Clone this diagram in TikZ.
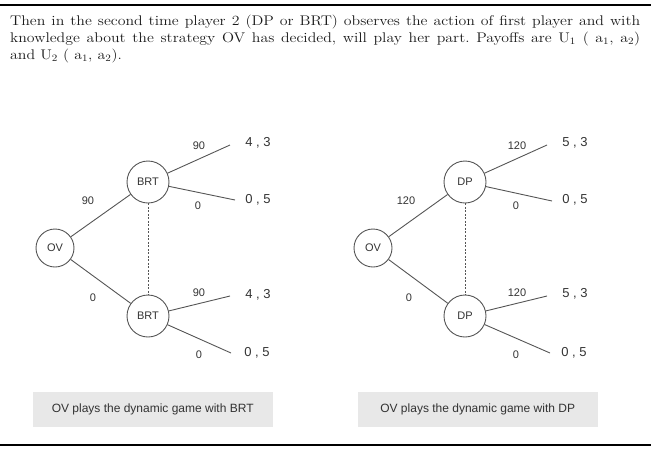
\documentclass[tikz,border=0pt]{standalone}
\usepackage{fontspec}
\newfontfamily\sanf{Liberation Sans}
\definecolor{ln}{HTML}{555555}
\definecolor{tx}{HTML}{333333}
\definecolor{capbg}{HTML}{E8E8E8}
\definecolor{bodytx}{HTML}{1A1A1A}
\tikzset{
  player/.style={circle, draw=ln, line width=0.9pt, inner sep=0pt, font=\sanf\fontsize{11}{11}\selectfont, text=tx},
  branch/.style={draw=ln, line width=0.9pt},
  infoset/.style={draw=ln, line width=0.8pt, dash pattern=on 2pt off 1.5pt},
  elabel/.style={font=\sanf\fontsize{11}{11}\selectfont, text=tx, inner sep=0pt},
  payoff/.style={font=\sanf\fontsize{13}{13}\selectfont, text=tx, inner sep=0pt},
  capbox/.style={fill=capbg, minimum width=240pt, minimum height=35pt, inner sep=0pt, font=\sanf\fontsize{12}{12}\selectfont, text=tx},
  bodyline/.style={anchor=base west, inner sep=0pt, font=\fontsize{14}{17}\selectfont\frenchspacing, text=bodytx},
  rule/.style={line width=2pt, draw=black}
}
\begin{document}
\begin{tikzpicture}[x=1pt, y=-1pt]
\useasboundingbox (0,0) rectangle (651,451);
% rules
\draw[rule] (0,5) -- (651,5);
\draw[rule] (0,445) -- (651,445);
% body text
\node[bodyline] (t1) at (10,25.5) {\scalebox{1.13}[1]{\makebox[557.5pt][s]{Then in the second time player 2 (DP or BRT) observes the action of first player and with}}};
\node[bodyline] (t2) at (10,42.5) {\scalebox{1.13}[1]{\makebox[557.5pt][s]{knowledge about the strategy OV has decided, will play her part. Payoffs are U\textsubscript{1} ( a\textsubscript{1}, a\textsubscript{2})}}};
\node[bodyline] (t3) at (10,59.5) {\scalebox{1.13}[1]{and U\textsubscript{2} ( a\textsubscript{1}, a\textsubscript{2}).}};
% left tree
\node[player, minimum size=38pt] (ov1) at (55,248) {OV};
\node[player, minimum size=42pt] (b1) at (148,182) {BRT};
\node[player, minimum size=42pt] (b2) at (148,316) {BRT};
\coordinate (e1) at (230,145);
\coordinate (e2) at (235,200);
\coordinate (e3) at (230,296);
\coordinate (e4) at (231,353);
\draw[branch] (ov1) -- (b1);
\draw[branch] (ov1) -- (b2);
\draw[branch] (b1) -- (e1);
\draw[branch] (b1) -- (e2);
\draw[branch] (b2) -- (e3);
\draw[branch] (b2) -- (e4);
\draw[infoset] (b1) -- (b2);
\node[elabel] (l1) at (88,201) {90};
\node[elabel] (l2) at (93,298) {0};
\node[elabel] (l3) at (199,146) {90};
\node[elabel] (l4) at (198,206) {0};
\node[elabel] (l5) at (199,293) {90};
\node[elabel] (l6) at (199,355) {0};
\node[payoff] (p1) at (258,143) {4 , 3};
\node[payoff] (p2) at (258,200) {0 , 5};
\node[payoff] (p3) at (258,295) {4 , 3};
\node[payoff] (p4) at (257,353) {0 , 5};
\node[capbox] (c1) at (152.7,409.5) {OV plays the dynamic game with BRT};
% right tree
\node[player, minimum size=38pt] (ov2) at (373,248) {OV};
\node[player, minimum size=42pt] (d1) at (465,182) {DP};
\node[player, minimum size=42pt] (d2) at (465,316) {DP};
\coordinate (f1) at (547,145);
\coordinate (f2) at (552,201);
\coordinate (f3) at (547,296);
\coordinate (f4) at (550,353);
\draw[branch] (ov2) -- (d1);
\draw[branch] (ov2) -- (d2);
\draw[branch] (d1) -- (f1);
\draw[branch] (d1) -- (f2);
\draw[branch] (d2) -- (f3);
\draw[branch] (d2) -- (f4);
\draw[infoset] (d1) -- (d2);
\node[elabel] (m1) at (406,201) {120};
\node[elabel] (m2) at (409,298) {0};
\node[elabel] (m3) at (517,146) {120};
\node[elabel] (m4) at (516,206) {0};
\node[elabel] (m5) at (517,293) {120};
\node[elabel] (m6) at (516,355) {0};
\node[payoff] (q1) at (575,143) {5 , 3};
\node[payoff] (q2) at (575,200) {0 , 5};
\node[payoff] (q3) at (575,294) {5 , 3};
\node[payoff] (q4) at (574,353) {0 , 5};
\node[capbox] (c2) at (477.7,409.5) {OV plays the dynamic game with DP};
\end{tikzpicture}
\end{document}
